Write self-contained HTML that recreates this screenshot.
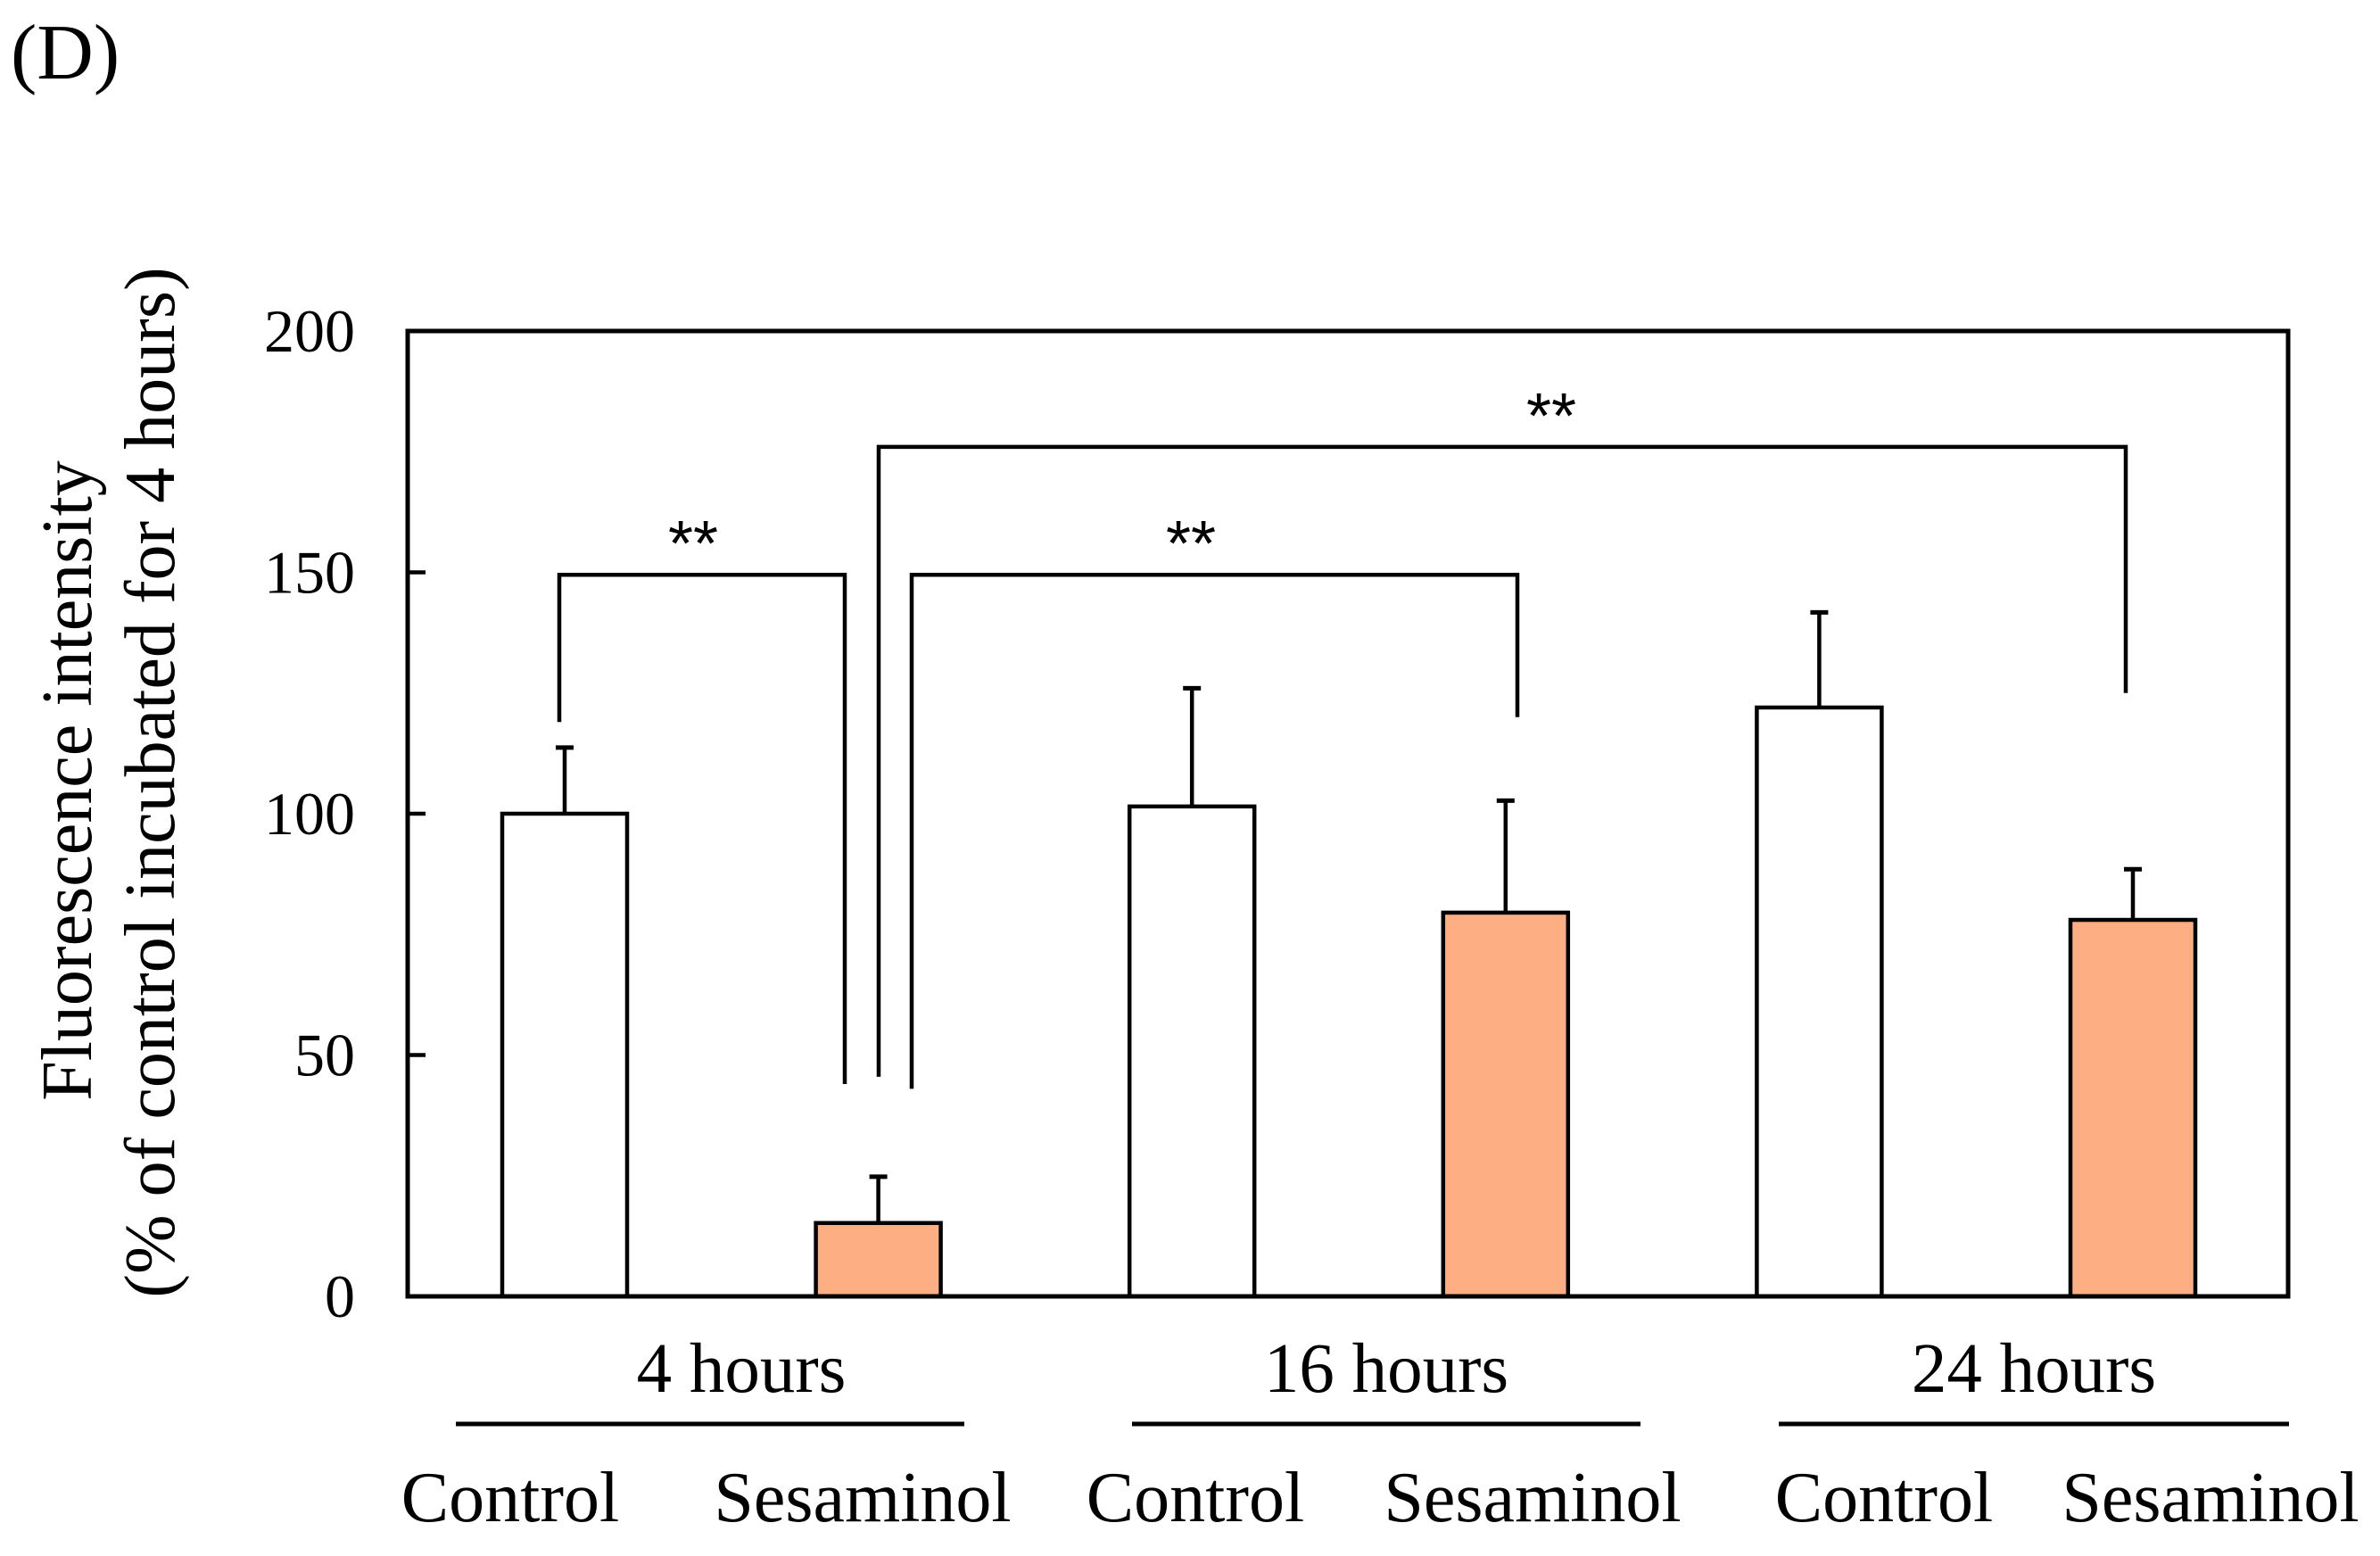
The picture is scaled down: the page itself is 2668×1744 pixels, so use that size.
<!DOCTYPE html>
<html><head><meta charset="utf-8"><style>
html,body{margin:0;padding:0;background:#fff;}
svg{display:block;font-family:"Liberation Serif",serif;}
</style></head><body>
<svg id="chart" width="2668" height="1744" viewBox="0 0 2668 1744">
<text x="12" y="88" font-size="88">(D)</text>
<g id="g"></g>
</svg>
<script>
const groups = ["4 hours","16 hours","24 hours"];
const treatments = ["Control","Sesaminol"];
const controlValues = [100, 101.5, 122];
const controlErrors = [13.7, 24.5, 19.7];
const sesaminolValues = [15.2, 79.5, 78];
const sesaminolErrors = [9.6, 23.2, 10.5];
const yTicks = [0,50,100,150,200];
const sigLabels = ["**","**","**"];

const NS="http://www.w3.org/2000/svg";
const g=document.getElementById('g');
const X0=457,X1=2565,Y0=1453,Y1=371;
const y=v=>Y0-(v/200)*(Y0-Y1);
const barCenter=i=>633+i*351.6;
const BW=140;
function el(t,a,p){const e=document.createElementNS(NS,t);for(const k in a)e.setAttribute(k,a[k]);(p||g).appendChild(e);return e;}
function line(x1,y1,x2,y2,w){return el('line',{x1,y1,x2,y2,stroke:'#000','stroke-width':w||4.5});}

yTicks.forEach(t=>{
  const tk=line(X0,y(t),X0+20,y(t),4.5);
  
  
  const tx=el('text',{x:398,y:y(t)+23,'font-size':68,'text-anchor':'end'});
  tx.textContent=t;
  
  
});

const vals=[],errs=[];
groups.forEach((gname,i)=>{vals.push(controlValues[i],sesaminolValues[i]);errs.push(controlErrors[i],sesaminolErrors[i]);});
vals.forEach((v,i)=>{
  const cx=barCenter(i), ses=i%2===1;
  const eb=line(cx,y(v),cx,y(v+errs[i]),4.5);
  
  
  const cap=line(cx-10,y(v+errs[i]),cx+10,y(v+errs[i]),5);
  
  
  const r=el('rect',{x:cx-BW/2,y:y(v),width:BW,height:Y0-y(v),fill:ses?'#FDAE82':'#fff',stroke:'#000','stroke-width':4.5});
  
  
});

const fr=el('rect',{x:X0,y:Y1,width:X1-X0,height:Y0-Y1,fill:'none',stroke:'#000','stroke-width':5});



function bracket(xl,yl,xr,yr,yt,lx,label,name){
  const p=el('polyline',{points:`${xl},${y(yl)} ${xl},${y(yt)} ${xr},${y(yt)} ${xr},${y(yr)}`,fill:'none',stroke:'#000','stroke-width':4.5});
  
  
  const t=el('text',{x:lx,y:y(yt)-10,'font-size':72,'text-anchor':'middle','font-family':'Liberation Sans, sans-serif'});
  t.textContent=label;
  
  
}
bracket(627,119,947,44,149.5,777,sigLabels[0],'sig-bracket-4h');
bracket(1022,43,1701,120,149.5,1335,sigLabels[1],'sig-bracket-16h');
bracket(985,45.5,2383,125,176,1739,sigLabels[2],'sig-bracket-24h');

const gc=[831,1554,2280], gl=[[511,1081],[1269,1839],[1994,2566]];
groups.forEach((n,i)=>{
  const t=el('text',{x:gc[i],y:1560,'font-size':79,'text-anchor':'middle'});
  t.textContent=n;
  
  
  const l=line(gl[i][0],1596,gl[i][1],1596,5);
  
  
});
const subc=[572,967,1340,1718,2112,2478];
subc.forEach((c,i)=>{
  const t=el('text',{x:c,y:1705,'font-size':80,'text-anchor':'middle'});
  t.textContent=treatments[i%2];
  
  
});

const t1=el('text',{x:0,y:0,'font-size':80,'text-anchor':'middle',transform:'translate(102,875) rotate(-90)'});
t1.textContent='Fluorescence intensity';


const t2=el('text',{x:0,y:0,'font-size':80,'text-anchor':'middle',transform:'translate(195,877) rotate(-90)'});
t2.textContent='(% of control incubated for 4 hours)';


</script>
</body></html>
